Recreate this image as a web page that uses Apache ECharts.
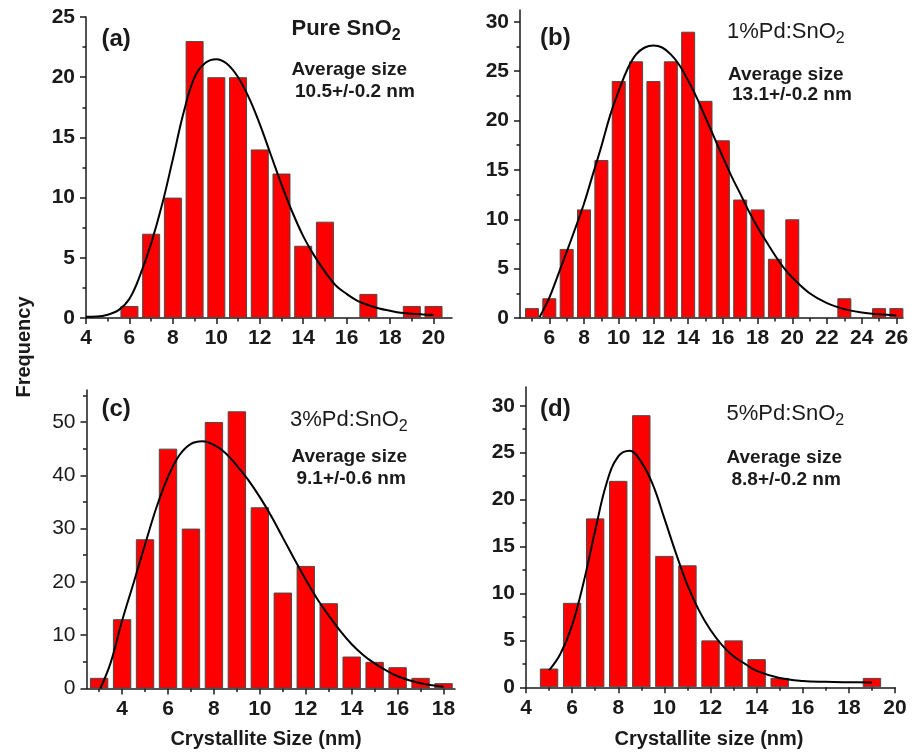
<!DOCTYPE html>
<html>
<head>
<meta charset="utf-8">
<title>Crystallite size distributions</title>
<script src="https://cdn.jsdelivr.net/npm/echarts@6/dist/echarts.min.js"></script>
<style>
  html, body { margin: 0; padding: 0; background: #fff; }
  #chart { width: 917px; height: 754px; }
</style>
</head>
<body>
<div id="chart"></div>
<script>
// (a) pure SnO2
const sizesA = [6, 7, 8, 9, 10, 11, 12, 13, 14, 15, 16, 17, 18, 19, 20]
const countsA = [1, 7, 10, 23, 20, 20, 14, 12, 6, 8, 0, 2, 0, 1, 1]
const fitXA = [4, 4.5, 5, 5.5, 6, 6.5, 7, 7.5, 8, 8.5, 9, 9.5, 10, 10.5, 11, 11.5, 12, 12.5, 13, 13.5, 14, 14.5, 15, 15.5, 16, 16.5, 17, 17.5, 18, 18.5, 19, 19.5, 20]
const fitYA = [0.1, 0.12, 0.27, 0.65, 1.6, 3.6, 6.2, 9.4, 13.2, 17.1, 20.0, 21.2, 21.5, 21.1, 20.0, 18.3, 16.1, 13.6, 11.1, 8.8, 6.8, 5.2, 3.85, 2.7, 2.0, 1.43, 1.07, 0.79, 0.6, 0.44, 0.35, 0.3, 0.27]

// (b) 1%Pd:SnO2
const sizesB = [5, 6, 7, 8, 9, 10, 11, 12, 13, 14, 15, 16, 17, 18, 19, 20, 21, 22, 23, 24, 25, 26]
const countsB = [1, 2, 7, 11, 16, 24, 26, 24, 26, 29, 22, 18, 12, 11, 6, 10, 0, 0, 2, 0, 1, 1]
const fitXB = [5.45, 5.5, 6, 6.5, 7, 7.5, 8, 8.5, 9, 9.5, 10, 10.5, 11, 11.5, 12, 12.5, 13, 13.5, 14, 14.5, 15, 15.5, 16, 16.5, 17, 17.5, 18, 18.5, 19, 19.5, 20, 21, 22, 23, 24, 25, 26]
const fitYB = [0.1, 0.3, 2.05, 4.35, 6.7, 9.1, 11.6, 14.5, 17.4, 20.5, 23.0, 25.2, 26.7, 27.4, 27.6, 27.4, 26.7, 25.6, 24.05, 22.3, 20.3, 18.3, 16.3, 14.35, 12.6, 10.8, 9.2, 7.75, 6.35, 5.1, 4.1, 2.5, 1.5, 0.9, 0.55, 0.37, 0.25]

// (c) 3%Pd:SnO2
const sizesC = [3, 4, 5, 6, 7, 8, 9, 10, 11, 12, 13, 14, 15, 16, 17, 18]
const countsC = [2, 13, 28, 45, 30, 50, 52, 34, 18, 23, 16, 6, 5, 4, 2, 1]
const fitXC = [3.05, 3.5, 4, 4.5, 5, 5.5, 6, 6.5, 7, 7.5, 8, 8.5, 9, 9.5, 10, 10.5, 11, 11.5, 12, 12.5, 13, 13.5, 14, 14.5, 15, 15.5, 16, 16.5, 17, 17.5, 18]
const fitYC = [0, 4.8, 12.7, 19.8, 27.0, 34.0, 39.7, 43.8, 45.9, 46.4, 45.7, 44.2, 41.8, 39.1, 35.9, 32.3, 28.3, 24.3, 20.4, 16.8, 13.7, 10.8, 8.3, 6.3, 4.7, 3.4, 2.3, 1.55, 1.0, 0.62, 0.35]

// (d) 5%Pd:SnO2
const sizesD = [5, 6, 7, 8, 9, 10, 11, 12, 13, 14, 15, 16, 17, 18, 19]
const countsD = [2, 9, 18, 22, 29, 14, 13, 5, 5, 3, 1, 0, 0, 0, 1]
const fitXD = [5, 5.5, 6, 6.5, 7, 7.5, 8, 8.5, 9, 9.5, 10, 10.5, 11, 11.5, 12, 12.5, 13, 13.5, 14, 15, 16, 17, 18, 19]
const fitYD = [1.8, 3.6, 6.6, 11.2, 16.7, 21.8, 24.6, 25.2, 24.0, 21.6, 18.0, 14.3, 10.9, 8.2, 6.1, 4.5, 3.3, 2.5, 1.75, 1.0, 0.68, 0.58, 0.54, 0.52]

// tick labels
const xTicksA = [4, 6, 8, 10, 12, 14, 16, 18, 20]
const xMinorA = [5, 7, 9, 11, 13, 15, 17, 19]
const yTicksA = [0, 5, 10, 15, 20, 25]
const yMinorA = [2.5, 7.5, 12.5, 17.5, 22.5]
const xTicksB = [6, 8, 10, 12, 14, 16, 18, 20, 22, 24, 26]
const xMinorB = [5, 7, 9, 11, 13, 15, 17, 19, 21, 23, 25]
const yTicksB = [0, 5, 10, 15, 20, 25, 30]
const yMinorB = [2.5, 7.5, 12.5, 17.5, 22.5, 27.5]
const xTicksC = [4, 6, 8, 10, 12, 14, 16, 18]
const xMinorC = [3, 5, 7, 9, 11, 13, 15, 17]
const yTicksC = [0, 10, 20, 30, 40, 50]
const yMinorC = [5, 15, 25, 35, 45, 55]
const xTicksD = [4, 6, 8, 10, 12, 14, 16, 18, 20]
const xMinorD = [5, 7, 9, 11, 13, 15, 17, 19]
const yTicksD = [0, 5, 10, 15, 20, 25, 30]
const yMinorD = [2.5, 7.5, 12.5, 17.5, 22.5, 27.5]

const FONT = "'Liberation Sans', Arial, sans-serif"
const INK = '#1a1a1a'

const panels = [
  { sizes: sizesA, counts: countsA, fitX: fitXA, fitY: fitYA, xTicks: xTicksA, xMinor: xMinorA, yTicks: yTicksA, yMinor: yMinorA,
    xMin: 4, xMax: 20.85, yMax: 25, box: { left: 86, top: 17, width: 366, height: 301 }, barWidth: 18, yWeight: 'bold' },
  { sizes: sizesB, counts: countsB, fitX: fitXB, fitY: fitYB, xTicks: xTicksB, xMinor: xMinorB, yTicks: yTicksB, yMinor: yMinorB,
    xMin: 4.31, xMax: 26.38, yMax: 31.2, box: { left: 520, top: 10, width: 383, height: 308 }, barWidth: 14, yWeight: 'bold' },
  { sizes: sizesC, counts: countsC, fitX: fitXC, fitY: fitYC, xTicks: xTicksC, xMinor: xMinorC, yTicks: yTicksC, yMinor: yMinorC,
    xMin: 2.45, xMax: 18.5, yMax: 56, box: { left: 86.5, top: 390, width: 368.5, height: 298.5 }, barWidth: 18.4, yWeight: 'normal' },
  { sizes: sizesD, counts: countsD, fitX: fitXD, fitY: fitYD, xTicks: xTicksD, xMinor: xMinorD, yTicks: yTicksD, yMinor: yMinorD,
    xMin: 4, xMax: 20, yMax: 32, box: { left: 526, top: 387, width: 369, height: 300.3 }, barWidth: 18.4, yWeight: 'bold' }
]

const grid = []
const xAxis = []
const yAxis = []
const series = []

panels.forEach((p, i) => {
  grid.push(Object.assign({ containLabel: false, outerBoundsMode: 'none' }, p.box))
  const lineStyle = { color: INK, width: 1.5 }
  const labelStyle = { color: INK, fontFamily: FONT, fontSize: 21 }
  // main axes: line, major ticks, labels
  xAxis.push({
    type: 'value', gridIndex: i, position: 'bottom', min: p.xMin, max: p.xMax,
    axisLine: { onZero: false, lineStyle },
    axisTick: { customValues: p.xTicks, length: 6, lineStyle },
    axisLabel: Object.assign({ customValues: p.xTicks, margin: 10, fontWeight: 'bold' }, labelStyle),
    splitLine: { show: false }
  })
  yAxis.push({
    type: 'value', gridIndex: i, position: 'left', min: 0, max: p.yMax,
    axisLine: { show: true, onZero: false, lineStyle },
    axisTick: { show: true, customValues: p.yTicks, length: 6, lineStyle },
    axisLabel: Object.assign({ customValues: p.yTicks, margin: 11, fontWeight: p.yWeight }, labelStyle),
    splitLine: { show: false }
  })
  // overlay axes carrying only the short minor ticks
  xAxis.push({
    type: 'value', gridIndex: i, position: 'bottom', min: p.xMin, max: p.xMax,
    axisLine: { show: false, onZero: false },
    axisTick: { customValues: p.xMinor, length: 3.5, lineStyle },
    axisLabel: { show: false },
    splitLine: { show: false }
  })
  yAxis.push({
    type: 'value', gridIndex: i, position: 'left', min: 0, max: p.yMax,
    axisLine: { show: false, onZero: false },
    axisTick: { show: true, customValues: p.yMinor, length: 3.5, lineStyle },
    axisLabel: { show: false },
    splitLine: { show: false }
  })

  series.push({
    type: 'bar', xAxisIndex: 2 * i, yAxisIndex: 2 * i, barWidth: p.barWidth,
    data: p.sizes.map((s, k) => [s, p.counts[k]]).filter(d => d[1] > 0),
    itemStyle: { color: '#ff0000', borderColor: '#4a4a4a', borderWidth: 1 },
    silent: true
  })
  series.push({
    type: 'line', xAxisIndex: 2 * i, yAxisIndex: 2 * i, smooth: 0.4, showSymbol: false,
    data: p.fitX.map((x, k) => [x, p.fitY[k]]),
    lineStyle: { color: '#000', width: 2 }, z: 5, silent: true
  })
})

function txt(text, x, y, size, weight, extra) {
  return Object.assign({
    type: 'text', x, y, silent: true,
    style: { text, fill: INK, font: `${weight} ${size}px ${FONT}`, align: 'left', verticalAlign: 'middle' }
  }, extra || {})
}

function formula(head, x, y, weight) {
  return {
    type: 'text', x, y, silent: true,
    style: {
      text: `{m|${head}}{s|2}`, fill: INK, align: 'left', verticalAlign: 'middle',
      rich: {
        m: { fontFamily: FONT, fontSize: 22, fontWeight: weight, lineHeight: 22, fill: INK },
        s: { fontFamily: FONT, fontSize: 16, fontWeight: weight, lineHeight: 16, padding: [14, 0, 0, 0], fill: INK }
      }
    }
  }
}

const graphic = [
  txt('(a)', 101.5, 39, 24, 'bold'),
  formula('Pure SnO', 291.5, 29, 'bold'),
  txt('Average size', 291.5, 69.5, 19, 'bold'),
  txt('10.5+/-0.2 nm', 295, 91.5, 19, 'bold'),

  txt('(b)', 540, 38.5, 24, 'bold'),
  formula('1%Pd:SnO', 727, 31.5, 'normal'),
  txt('Average size', 728, 75, 19, 'bold'),
  txt('13.1+/-0.2 nm', 732, 95, 19, 'bold'),

  txt('(c)', 101.5, 409, 24, 'bold'),
  formula('3%Pd:SnO', 290, 420, 'normal'),
  txt('Average size', 291.5, 456.5, 19, 'bold'),
  txt('9.1+/-0.6 nm', 296.5, 478.5, 19, 'bold'),

  txt('(d)', 540, 409, 24, 'bold'),
  formula('5%Pd:SnO', 726.5, 414, 'normal'),
  txt('Average size', 726.5, 458, 19, 'bold'),
  txt('8.8+/-0.2 nm', 731.5, 480, 19, 'bold'),

  txt('Frequency', 24.5, 347, 20, 'bold', { rotation: Math.PI / 2, style: { text: 'Frequency', fill: INK, font: `bold 20px ${FONT}`, align: 'center', verticalAlign: 'middle' } }),
  txt('Crystallite Size (nm)', 266, 739, 20, 'bold', { style: { text: 'Crystallite Size (nm)', fill: INK, font: `bold 20px ${FONT}`, align: 'center', verticalAlign: 'middle' } }),
  txt('Crystallite size (nm)', 709, 739, 20, 'bold', { style: { text: 'Crystallite size (nm)', fill: INK, font: `bold 20px ${FONT}`, align: 'center', verticalAlign: 'middle' } })
]

const chart = echarts.init(document.getElementById('chart'), null, { renderer: 'canvas' })
const option = {
  animation: false,
  backgroundColor: '#ffffff',
  grid,
  xAxis,
  yAxis,
  series,
  graphic
}
chart.setOption(option)
window.addEventListener('resize', () => chart.resize())
</script>
</body>
</html>
